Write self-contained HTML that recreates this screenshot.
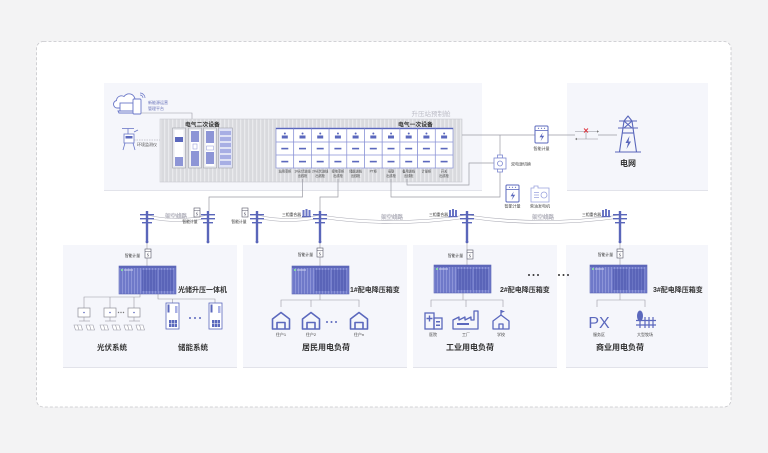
<!DOCTYPE html>
<html><head><meta charset="utf-8">
<style>
html,body{margin:0;padding:0;background:#f3f3f4;width:768px;height:453px;overflow:hidden}
svg{display:block}
text{font-family:"Liberation Sans","Noto Sans CJK SC",sans-serif}
</style></head><body>
<svg width="768" height="453" viewBox="0 0 768 453" xmlns="http://www.w3.org/2000/svg">
<defs>
<pattern id="cs" width="4" height="4" patternUnits="userSpaceOnUse"><rect width="4" height="4" fill="#d9dade"/><rect width="1.3" height="4" fill="#e9eaed"/></pattern>
<pattern id="bs" width="3" height="4" patternUnits="userSpaceOnUse"><rect width="3" height="4" fill="#6f79c9"/><rect width="1" height="4" fill="#8c94d8"/></pattern>
<pattern id="bd" width="3" height="4" patternUnits="userSpaceOnUse"><rect width="3" height="4" fill="#5a64b8"/><rect width="1" height="4" fill="#6a74c3"/></pattern>
<g id="box">
<rect x="0" y="0" width="57" height="28" fill="url(#bs)" stroke="#5a64b5" stroke-width="0.6"/>
<rect x="0" y="0" width="57" height="2" fill="#5d67b9"/>
<rect x="23" y="4" width="15" height="21" fill="url(#bd)"/>
<rect x="39.5" y="4" width="15" height="21" fill="url(#bd)"/>
<rect x="2" y="3" width="2" height="2" fill="#86d6a6"/>
<rect x="5" y="3.5" width="9" height="1" fill="#cfd3f0"/>
</g>
<g id="meter">
<rect x="0" y="0" width="13" height="17" rx="1" fill="#fff" stroke="#5b68bd" stroke-width="1"/>
<line x1="0" y1="4.5" x2="13" y2="4.5" stroke="#5b68bd" stroke-width="0.8"/>
<circle cx="3.5" cy="2.3" r="0.6" fill="#5b68bd"/><circle cx="6.5" cy="2.3" r="0.6" fill="#5b68bd"/><circle cx="9.5" cy="2.3" r="0.6" fill="#5b68bd"/>
<path d="M7.8 6.5 L4.5 11.3 H7 L5.6 15.3 L9.2 9.8 H6.7 Z" fill="#5b68bd"/>
</g>
<g id="sm">
<rect x="0" y="0" width="6" height="9" fill="#fff" stroke="#556" stroke-width="0.6"/>
<line x1="0" y1="2.5" x2="6" y2="2.5" stroke="#556" stroke-width="0.5"/>
<path d="M3.3 3.8 L2.2 6 H3.7 L2.8 7.8" stroke="#556" stroke-width="0.5" fill="none"/>
</g>
<g id="pole">
<rect x="-1.2" y="0" width="2.4" height="31" fill="#5a66ba"/>
<rect x="-7" y="3" width="14" height="1.4" fill="#5a66ba"/>
<rect x="-7" y="7" width="14" height="1.4" fill="#5a66ba"/>
<rect x="-5" y="11" width="10" height="1.4" fill="#5a66ba"/>
<circle cx="0" cy="31" r="1.4" fill="#5a66ba"/>
</g>
<g id="rec">
<rect x="0" y="1" width="2" height="7" fill="#6a76c6"/>
<rect x="3" y="0" width="2" height="8" fill="#6a76c6"/>
<rect x="6" y="1" width="2" height="7" fill="#6a76c6"/>
<rect x="-0.5" y="7" width="9" height="1.2" fill="#5a66ba"/>
</g>
<g id="house" fill="none" stroke="#5b68bd" stroke-width="1.6" stroke-linejoin="round">
<path d="M-8.5 17 V7 L0 0.5 L8.5 7 V17 Z"/>
<path d="M-4 17 V10.5 H4 V17"/>
</g>
<g id="pcab">
<rect x="0" y="0" width="17.7" height="40" fill="#fff" stroke="#8a93d6" stroke-width="0.7"/>
<rect x="0" y="0" width="17.7" height="1.2" fill="#5b68bd"/>
<line x1="0" y1="14" x2="17.7" y2="14" stroke="#8a93d6" stroke-width="0.7"/>
<line x1="0" y1="27" x2="17.7" y2="27" stroke="#8a93d6" stroke-width="0.7"/>
<circle cx="8.85" cy="5.5" r="1" fill="#5b68bd"/>
<rect x="5.8" y="7.5" width="6" height="3" fill="#5b68bd"/>
<rect x="5.3" y="19.8" width="7" height="1.6" fill="#5b68bd"/>
<rect x="5.3" y="32.8" width="7" height="1.6" fill="#5b68bd"/>
</g>
<g id="pv" fill="#fff" stroke="#9a9aa6" stroke-width="0.6">
<path d="M0 0 H7 L8.5 5 H1.5 Z"/>
<line x1="3.5" y1="0" x2="5" y2="5"/>
</g>
<g id="inv">
<rect x="0" y="0" width="12" height="9" fill="#fff" stroke="#8d8d98" stroke-width="0.7"/>
<circle cx="6" cy="4.5" r="0.8" fill="#5b68bd"/>
</g>
<g id="ess">
<rect x="0" y="0" width="13" height="26" fill="#fff" stroke="#5b68bd" stroke-width="0.8"/>
<rect x="1.5" y="1.5" width="2" height="8" fill="#5b68bd"/>
<rect x="9" y="3" width="2.5" height="7" fill="#aab1e6"/>
<rect x="3" y="17" width="8" height="7" fill="#5b68bd"/>
<line x1="5.6" y1="17" x2="5.6" y2="24" stroke="#fff" stroke-width="0.5"/>
<line x1="8.3" y1="17" x2="8.3" y2="24" stroke="#fff" stroke-width="0.5"/>
<line x1="3" y1="20.5" x2="11" y2="20.5" stroke="#fff" stroke-width="0.5"/>
</g>
</defs>

<!-- outer frame -->
<rect x="36.5" y="41.5" width="694.5" height="365.5" rx="7" fill="#fff" stroke="#c6c6ca" stroke-width="0.8" stroke-dasharray="3 2"/>

<!-- top panels -->
<rect x="104" y="83" width="378" height="107" fill="#f5f6fb"/>
<line x1="104" y1="190.5" x2="482" y2="190.5" stroke="#e2e3ea"/>
<rect x="567" y="83" width="141" height="107" fill="#f5f6fb"/>
<line x1="567" y1="190.5" x2="708" y2="190.5" stroke="#e2e3ea"/>

<!-- bottom panels -->
<rect x="63" y="245" width="174" height="122" fill="#f5f6fb"/>
<line x1="63" y1="367.5" x2="237" y2="367.5" stroke="#e2e3ea"/>
<rect x="243" y="245" width="164" height="122" fill="#f5f6fb"/>
<line x1="243" y1="367.5" x2="407" y2="367.5" stroke="#e2e3ea"/>
<rect x="413" y="245" width="144" height="122" fill="#f5f6fb"/>
<line x1="413" y1="367.5" x2="557" y2="367.5" stroke="#e2e3ea"/>
<rect x="566" y="245" width="142" height="122" fill="#f5f6fb"/>
<line x1="566" y1="367.5" x2="708" y2="367.5" stroke="#e2e3ea"/>

<!-- cloud platform icon -->
<g fill="#fff" stroke="#6b78c8" stroke-width="0.9">
<path d="M117 108 H135 A4 4 0 0 0 135 100 A6 6 0 0 0 124 96.5 A5 5 0 0 0 116.5 100.5 A3.8 3.8 0 0 0 117 108 Z"/>
<rect x="120" y="103" width="13" height="8"/>
<path d="M118 111 H135 L134 113 H119 Z"/>
<rect x="133" y="99" width="8" height="15" rx="1"/>
</g>
<path d="M140 95 A3 3 0 0 1 143 98 M140 93 A5 5 0 0 1 145 98" fill="none" stroke="#6b78c8" stroke-width="0.7"/>
<text x="148" y="104" font-size="4" fill="#6670b8">新能源运营</text>
<text x="148" y="110" font-size="4" fill="#6670b8">管理平台</text>
<polyline points="141,113 192,113 192,120" fill="none" stroke="#9a9aa4" stroke-width="0.6"/>

<!-- weather station -->
<g fill="#fff" stroke="#6b78c8" stroke-width="0.8">
<line x1="122" y1="128.5" x2="134" y2="128.5"/>
<line x1="128" y1="128.5" x2="128" y2="134"/>
<rect x="124" y="134" width="10" height="9"/>
<line x1="125" y1="143" x2="123" y2="150"/>
<line x1="133" y1="143" x2="135" y2="150"/>
<path d="M134 132 L138 130"/>
</g>
<rect x="125.5" y="136" width="7" height="2.5" fill="#5b68bd"/>
<text x="137" y="146" font-size="4" fill="#555">环境监测仪</text>
<line x1="134" y1="140" x2="174" y2="140" stroke="#9a9aa4" stroke-width="0.6" stroke-dasharray="1.5 1"/>

<!-- container -->
<text x="431" y="116" font-size="6.5" fill="#bdbdc7" text-anchor="middle">升压站预制舱</text>
<rect x="160" y="119" width="302" height="63" fill="url(#cs)" stroke="#c9cad0" stroke-width="0.6"/>
<text x="185" y="126.5" font-size="5.8" font-weight="bold" fill="#333">电气二次设备</text>
<text x="398" y="126.5" font-size="5.8" font-weight="bold" fill="#333">电气一次设备</text>

<!-- secondary cabinets -->
<g stroke="#a9aab2" stroke-width="0.7">
<rect x="172.5" y="128" width="13" height="40" fill="#e9eaee"/>
<rect x="188.5" y="128" width="13" height="40" fill="#e9eaee"/>
<rect x="203.5" y="128" width="13" height="40" fill="#e9eaee"/>
<rect x="218.5" y="128" width="14" height="40" fill="#dfe2f5"/>
</g>
<rect x="174.5" y="130" width="9" height="36" fill="#fff"/>
<rect x="175" y="137" width="8" height="5" fill="#5b68bd"/>
<rect x="175" y="157" width="8" height="9" fill="#8d95d6"/>
<rect x="190.5" y="130" width="9" height="36" fill="#fff"/>
<rect x="191" y="131" width="8" height="11" fill="#8d95d6"/>
<rect x="193" y="144" width="4" height="5" fill="none" stroke="#8d95d6" stroke-width="0.5"/>
<rect x="191" y="151" width="8" height="15" fill="#8d95d6"/>
<rect x="205.5" y="130" width="9" height="36" fill="#fff"/>
<rect x="206" y="131" width="8" height="12" fill="#8d95d6"/>
<rect x="206.5" y="146" width="7" height="4" fill="none" stroke="#8d95d6" stroke-width="0.5"/>
<rect x="206" y="152" width="8" height="12" fill="#8d95d6"/>
<g fill="#a7aee4">
<rect x="220" y="131" width="11" height="4"/><rect x="220" y="137" width="11" height="4"/><rect x="220" y="143" width="11" height="4"/><rect x="220" y="149" width="11" height="4"/><rect x="220" y="155" width="11" height="4"/><rect x="220" y="161" width="11" height="4"/>
</g>

<!-- primary cabinets -->
<use href="#pcab" x="276" y="128"/>
<use href="#pcab" x="293.7" y="128"/>
<use href="#pcab" x="311.4" y="128"/>
<use href="#pcab" x="329.1" y="128"/>
<use href="#pcab" x="346.8" y="128"/>
<use href="#pcab" x="364.5" y="128"/>
<use href="#pcab" x="382.2" y="128"/>
<use href="#pcab" x="399.9" y="128"/>
<use href="#pcab" x="417.6" y="128"/>
<use href="#pcab" x="435.3" y="128"/>
<g font-size="3.2" fill="#444" text-anchor="middle">
<text x="285" y="172.5">站用变柜</text>
<text x="302.5" y="172.5">1#光伏进线</text><text x="302.5" y="177">出线柜</text>
<text x="320.2" y="172.5">2#光伏进线</text><text x="320.2" y="177">出线柜</text>
<text x="338" y="172.5">接地变柜</text><text x="338" y="177">出线柜</text>
<text x="355.6" y="172.5">储能进线</text><text x="355.6" y="177">出线柜</text>
<text x="373.3" y="172.5">PT柜</text>
<text x="391" y="172.5">母联</text><text x="391" y="177">出线柜</text>
<text x="408.7" y="172.5">备用进线</text><text x="408.7" y="177">出线柜</text>
<text x="426.4" y="172.5">计量柜</text>
<text x="444" y="172.5">开关</text><text x="444" y="177">出线柜</text>
</g>

<!-- connection lines top -->
<g fill="none" stroke="#9a9aa4" stroke-width="0.7">
<polyline points="302.5,179 302.5,197 209,197 209,211"/>
<polyline points="338,179 338,197 320,197 320,211"/>
<polyline points="391,179 391,197 500,197 500,172"/>
<polyline points="407,179 407,185 469,185 469,163 494,163"/>
<line x1="462" y1="135" x2="575" y2="135"/>
<line x1="598" y1="135" x2="617" y2="135"/>
<line x1="500" y1="135" x2="500" y2="156"/>
</g>

<!-- meter on main line -->
<use href="#meter" x="535" y="126"/>
<text x="541.5" y="150" font-size="4" fill="#444" text-anchor="middle">智能计量</text>

<!-- switch -->
<g stroke="#8f8f99" stroke-width="0.6" fill="none">
<line x1="575" y1="131.5" x2="597" y2="131.5"/>
<line x1="577" y1="139" x2="598" y2="139"/>
<line x1="586" y1="131.5" x2="586" y2="139"/>
</g>
<path d="M597 130.3 L599 131.5 L597 132.7 Z" fill="#777"/>
<path d="M577 137.8 L575 139 L577 140.2 Z" fill="#777"/>
<path d="M584 128.5 L588 132.5 M588 128.5 L584 132.5" stroke="#e0303a" stroke-width="0.9"/>

<!-- tower -->
<g fill="none" stroke="#5a67bb" stroke-width="1.1" stroke-linejoin="round">
<path d="M628 116 L624 121 H632 Z"/>
<line x1="619" y1="121" x2="637" y2="121"/>
<line x1="618" y1="128" x2="638" y2="128"/>
<path d="M624 121 L619.5 152 M632 121 L636.5 152"/>
<path d="M624 121 L632 128 M632 121 L624 128"/>
<path d="M622.5 133 L633.5 133"/>
<line x1="615" y1="152" x2="641" y2="152"/>
</g>
<path d="M629.5 136 L625.5 143 H628 L626.5 149 L631 141.5 H628.5 Z" fill="#5a67bb"/>
<text x="628" y="166" font-size="8" font-weight="bold" fill="#333" text-anchor="middle">电网</text>

<!-- dual power switch -->
<g fill="#fff" stroke="#7d88d0" stroke-width="0.8">
<rect x="497.5" y="155" width="5" height="3"/>
<rect x="497.5" y="169" width="5" height="3"/>
<rect x="494" y="158" width="12" height="11"/>
</g>
<circle cx="500" cy="163.5" r="2.5" fill="none" stroke="#7d88d0" stroke-width="0.8"/>
<text x="511" y="165.5" font-size="4" fill="#444">双电源切换</text>

<!-- meter 2 and generator -->
<use href="#meter" x="506" y="185" transform="translate(0,0)"/>
<text x="512.5" y="207.5" font-size="4" fill="#444" text-anchor="middle">智能计量</text>
<g fill="#fff" stroke="#9aa2de" stroke-width="0.8">
<path d="M531 188 H534 V186 H538 V188 H549 V202 H531 Z"/>
<circle cx="544" cy="195" r="3"/>
</g>
<path d="M534 192.5 H539 M534 195 H539 M534 197.5 H539" stroke="#9aa2de" stroke-width="0.7"/>
<text x="540" y="207.5" font-size="4" fill="#444" text-anchor="middle">柴油发电机</text>

<!-- overhead cables -->
<g fill="none" stroke="#a9a9b3" stroke-width="0.6">
<path d="M147 215 Q178 222 208 215"/>
<path d="M147 218 Q178 225 208 218"/>
<path d="M257 215 Q288 222 320 215"/>
<path d="M257 218 Q288 225 320 218"/>
<path d="M320 215 Q393 226 467 215"/>
<path d="M320 218 Q393 229 467 218"/>
<path d="M467 215 Q543 226 620 215"/>
<path d="M467 218 Q543 229 620 218"/>
</g>
<g font-size="5.5" fill="#fff" stroke="#b4b4be" stroke-width="0.35" text-anchor="middle">
<text x="176" y="218">架空线路</text>
<text x="392" y="219">架空线路</text>
<text x="543" y="219">架空线路</text>
</g>

<!-- poles -->
<use href="#pole" x="147" y="211"/>
<use href="#pole" x="208" y="211"/>
<use href="#pole" x="257" y="211"/>
<use href="#pole" x="320" y="211"/>
<use href="#pole" x="467" y="211"/>
<use href="#pole" x="620" y="211"/>

<!-- mid meters -->
<use href="#sm" x="194" y="208"/>
<text x="190" y="223" font-size="3.8" fill="#333" text-anchor="middle">智能计量</text>
<use href="#sm" x="242" y="208"/>
<text x="239" y="223" font-size="3.8" fill="#333" text-anchor="middle">智能计量</text>

<!-- reclosers -->
<text x="301" y="216" font-size="3.8" fill="#333" text-anchor="end">三相重合器</text>
<use href="#rec" x="302.5" y="209"/>
<text x="448" y="216" font-size="3.8" fill="#333" text-anchor="end">三相重合器</text>
<use href="#rec" x="449" y="209"/>
<text x="601" y="216" font-size="3.8" fill="#333" text-anchor="end">三相重合器</text>
<use href="#rec" x="602" y="209"/>

<!-- panel 1 -->
<g stroke="#9a9aa4" stroke-width="0.6" fill="none">
<line x1="147" y1="243" x2="147" y2="249"/>
<line x1="147" y1="258" x2="147" y2="266"/>
<polyline points="140,293 140,297 84,297 84,308"/>
<line x1="110" y1="297" x2="110" y2="308"/>
<line x1="134" y1="297" x2="134" y2="308"/>
<polyline points="158,293 158,299 215,299 215,303"/>
<line x1="172.5" y1="299" x2="172.5" y2="303"/>
<line x1="84" y1="317" x2="84" y2="321"/><line x1="79" y1="321" x2="90" y2="321"/>
<line x1="110" y1="317" x2="110" y2="321"/><line x1="105" y1="321" x2="116" y2="321"/>
<line x1="134" y1="317" x2="134" y2="321"/><line x1="129" y1="321" x2="140" y2="321"/>
</g>
<use href="#sm" x="145" y="249"/>
<text x="140" y="257" font-size="3.8" fill="#333" text-anchor="end">智能计量</text>
<use href="#box" x="119" y="266"/>
<text x="178" y="292" font-size="7" font-weight="bold" fill="#333">光储升压一体机</text>
<use href="#inv" x="78" y="308"/>
<use href="#inv" x="104" y="308"/>
<use href="#inv" x="128" y="308"/>
<g fill="#777"><circle cx="118.5" cy="312.5" r="0.7"/><circle cx="121" cy="312.5" r="0.7"/><circle cx="123.5" cy="312.5" r="0.7"/></g>
<use href="#pv" x="74" y="325"/><use href="#pv" x="86" y="325"/>
<use href="#pv" x="100" y="325"/><use href="#pv" x="112" y="325"/>
<use href="#pv" x="124" y="325"/><use href="#pv" x="136" y="325"/>
<use href="#ess" x="166" y="303"/>
<use href="#ess" x="209" y="303"/>
<g fill="#5b68bd"><circle cx="190" cy="318" r="1"/><circle cx="195" cy="318" r="1"/><circle cx="200" cy="318" r="1"/></g>
<text x="112" y="350" font-size="7.5" font-weight="bold" fill="#333" text-anchor="middle">光伏系统</text>
<text x="193" y="350" font-size="7.5" font-weight="bold" fill="#333" text-anchor="middle">储能系统</text>

<!-- panel 2 -->
<g stroke="#9a9aa4" stroke-width="0.6" fill="none">
<line x1="320" y1="243" x2="320" y2="248"/>
<line x1="320" y1="257" x2="320" y2="266"/>
<polyline points="320,293 320,300"/>
<polyline points="281,307 281,300 359,300 359,307"/>
<line x1="311" y1="300" x2="311" y2="307"/>
</g>
<use href="#sm" x="317" y="248"/>
<text x="313" y="256" font-size="3.8" fill="#333" text-anchor="end">智能计量</text>
<use href="#box" x="292" y="266"/>
<text x="350" y="292" font-size="7" font-weight="bold" fill="#333">1#配电降压箱变</text>
<use href="#house" x="281" y="312"/>
<use href="#house" x="311" y="312"/>
<use href="#house" x="359" y="312"/>
<g fill="#5b68bd"><circle cx="327" cy="322" r="1"/><circle cx="331.5" cy="322" r="1"/><circle cx="336" cy="322" r="1"/></g>
<g font-size="4" fill="#444" text-anchor="middle">
<text x="281" y="336">住户1</text><text x="311" y="336">住户2</text><text x="359" y="336">住户n</text>
</g>
<text x="326" y="350" font-size="8" font-weight="bold" fill="#333" text-anchor="middle">居民用电负荷</text>

<!-- panel 3 -->
<g stroke="#9a9aa4" stroke-width="0.6" fill="none">
<line x1="467" y1="243" x2="467" y2="250"/>
<line x1="467" y1="259" x2="467" y2="265"/>
<line x1="463" y1="293" x2="463" y2="300"/>
<polyline points="431,307 431,300 503,300 503,307"/>
<line x1="466" y1="300" x2="466" y2="307"/>
</g>
<use href="#sm" x="467" y="250"/>
<text x="463" y="257" font-size="3.8" fill="#333" text-anchor="end">智能计量</text>
<use href="#box" x="434" y="265"/>
<text x="500" y="292" font-size="7" font-weight="bold" fill="#333">2#配电降压箱变</text>
<!-- hospital -->
<g fill="none" stroke="#5b68bd" stroke-width="1.3">
<rect x="425" y="313" width="9" height="16"/>
<rect x="434" y="318" width="8" height="11"/>
</g>
<path d="M429.5 315.5 V321.5 M426.5 318.5 H432.5" stroke="#5b68bd" stroke-width="1.4"/>
<rect x="436" y="321" width="4" height="1.5" fill="#5b68bd"/><rect x="436" y="324.5" width="4" height="1.5" fill="#5b68bd"/>
<!-- factory -->
<g fill="none" stroke="#5b68bd" stroke-width="1.3" stroke-linejoin="round">
<path d="M453 329 V320 L459 317 V320 L465 317 V320 L471 317 V320 H474 V311 H478 V329 Z"/>
</g>
<rect x="457" y="323" width="12" height="2" fill="#5b68bd"/>
<!-- school -->
<g fill="none" stroke="#5b68bd" stroke-width="1.3" stroke-linejoin="round">
<path d="M493 329 V321 L501 315 L509 321 V329 Z"/>
<path d="M501 315 V310"/>
<path d="M499 329 V324 H503 V329"/>
</g>
<path d="M501 310 L505 311.5 L501 313 Z" fill="#5b68bd"/>
<g font-size="4" fill="#444" text-anchor="middle">
<text x="433" y="336">医院</text><text x="466" y="336">工厂</text><text x="501" y="336">学校</text>
</g>
<text x="470" y="350" font-size="8" font-weight="bold" fill="#333" text-anchor="middle">工业用电负荷</text>
<g fill="#333"><circle cx="529" cy="275" r="1"/><circle cx="533.5" cy="275" r="1"/><circle cx="538" cy="275" r="1"/>
<circle cx="559" cy="275" r="1"/><circle cx="563.5" cy="275" r="1"/><circle cx="568" cy="275" r="1"/></g>

<!-- panel 4 -->
<g stroke="#9a9aa4" stroke-width="0.6" fill="none">
<line x1="620" y1="243" x2="620" y2="249"/>
<line x1="620" y1="258" x2="620" y2="265"/>
<line x1="620" y1="293" x2="620" y2="300"/>
<polyline points="597,307 597,300 645,300 645,307"/>
</g>
<use href="#sm" x="617" y="249"/>
<text x="613" y="256" font-size="3.8" fill="#333" text-anchor="end">智能计量</text>
<use href="#box" x="590" y="265"/>
<text x="653" y="292" font-size="7" font-weight="bold" fill="#333">3#配电降压箱变</text>
<text x="599" y="328" font-size="16" fill="#5b68bd" text-anchor="middle">PX</text>
<!-- tree & fence -->
<ellipse cx="640" cy="316" rx="3" ry="5.5" fill="#5b68bd"/>
<line x1="640" y1="316" x2="640" y2="328" stroke="#5b68bd" stroke-width="1.2"/>
<g stroke="#5b68bd" stroke-width="1.2">
<line x1="645" y1="317" x2="645" y2="328"/><line x1="649" y1="317" x2="649" y2="328"/><line x1="653" y1="317" x2="653" y2="328"/>
<line x1="636" y1="320.5" x2="656" y2="320.5"/><line x1="636" y1="325" x2="656" y2="325"/>
</g>
<g font-size="4" fill="#444" text-anchor="middle">
<text x="599" y="336">服务区</text><text x="645" y="336">大型牧场</text>
</g>
<text x="620" y="350" font-size="8" font-weight="bold" fill="#333" text-anchor="middle">商业用电负荷</text>
</svg>
</body></html>
